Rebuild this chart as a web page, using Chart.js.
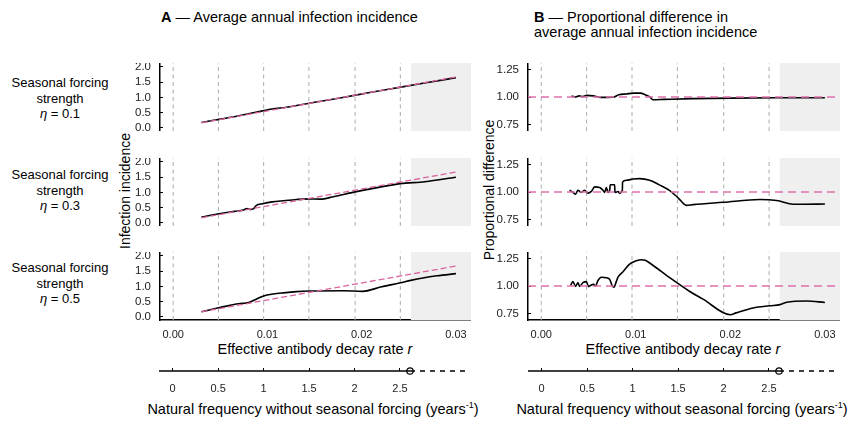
<!DOCTYPE html>
<html><head><meta charset="utf-8">
<script src="https://cdn.jsdelivr.net/npm/chart.js@4.4.1/dist/chart.umd.min.js"></script>
<style>
body{margin:0;width:850px;height:425px;background:#fff;position:relative;overflow:hidden;font-family:"Liberation Sans",Arial,Helvetica,sans-serif;color:#000}
.t{position:absolute;white-space:nowrap}
.rl{position:absolute;left:0;width:120px;text-align:center;font-size:13px;line-height:15.5px}
.yt{position:absolute;width:200px;height:20px;line-height:20px;text-align:center;font-size:14px;transform:rotate(-90deg)}
.xt{position:absolute;width:380px;text-align:center;font-size:14.5px;line-height:16px}
</style></head><body>
<div class="t" style="left:161px;top:9px;font-size:14.5px;line-height:16px"><b>A</b> &#8212; Average annual infection incidence</div>
<div class="t" style="left:534px;top:10px;font-size:14.5px;line-height:14.5px"><b>B</b> &#8212; Proportional difference in<br>average annual infection incidence</div>
<div class="rl" style="top:75px">Seasonal forcing<br>strength<br><i>&#951;</i> = 0.1</div>
<div class="rl" style="top:167px">Seasonal forcing<br>strength<br><i>&#951;</i> = 0.3</div>
<div class="rl" style="top:260px">Seasonal forcing<br>strength<br><i>&#951;</i> = 0.5</div>
<div class="yt" style="left:25px;top:181px">Infection incidence</div>
<div class="yt" style="left:389px;top:180px">Proportional difference</div>
<div class="xt" style="left:125px;top:341px">Effective antibody decay rate <i>r</i></div>
<div class="xt" style="left:493px;top:341px">Effective antibody decay rate <i>r</i></div>
<div class="xt" style="left:123px;top:397px">Natural frequency without seasonal forcing (years<sup style="font-size:9px">-1</sup>)</div>
<div class="xt" style="left:492px;top:397px">Natural frequency without seasonal forcing (years<sup style="font-size:9px">-1</sup>)</div>
<script>
// ---------- data ----------
const xTicks = [0, 0.01, 0.02, 0.03];
const yTicksA = [0, 0.5, 1, 1.5, 2];
const yTicksB = [0.75, 1, 1.25];
const freqTicks = [0, 0.5, 1, 1.5, 2, 2.5];
const gridR = [0, 0.0048, 0.0096, 0.0144, 0.0193, 0.0241];   // r at natural frequency 0,0.5,...,2.5
const shadeStartR = 0.0252;
const freqCircle = 2.61;
const refR = [0.003, 0.030];
const refA = [0.17, 1.67];
const refB = 1.0;

const a1R = [0.003,0.005,0.007,0.009,0.0105,0.012,0.015,0.018,0.021,0.024,0.027,0.030];
const a1Y = [0.18,0.29,0.40,0.53,0.62,0.68,0.84,1.00,1.17,1.33,1.49,1.65];

const a2R = [0.003,0.0048,0.0065,0.0074,0.0078,0.0082,0.0085,0.0088,0.0095,0.0105,0.0117,0.0131,0.0144,0.0156,0.017,0.0193,0.0215,0.0241,0.0267,0.030];
const a2Y = [0.19,0.30,0.38,0.42,0.47,0.44,0.46,0.57,0.63,0.69,0.73,0.77,0.79,0.78,0.86,1.02,1.15,1.29,1.35,1.50];

const a3R = [0.003,0.0048,0.006,0.0071,0.0076,0.008,0.0089,0.0096,0.0106,0.0117,0.0131,0.0144,0.018,0.0201,0.022,0.0241,0.0252,0.0265,0.028,0.030];
const a3Y = [0.17,0.30,0.38,0.44,0.45,0.47,0.60,0.69,0.75,0.79,0.83,0.85,0.86,0.84,0.98,1.12,1.20,1.28,1.35,1.42];

const b1R = [0.0032,0.0036,0.004,0.0044,0.0048,0.0055,0.0062,0.007,0.0076,0.0082,0.009,0.0098,0.0105,0.011,0.0115,0.0118,0.013,0.016,0.02,0.025,0.03];
const b1Y = [1.01,1.0,1.01,1.005,1.015,1.01,0.997,0.997,0.998,1.02,1.028,1.035,1.035,1.02,1.0,0.975,0.978,0.985,0.99,0.993,0.993];

const b2R = [0.0030,0.00335,0.00363,0.00388,0.00424,0.00459,0.00494,0.0053,0.00565,0.00618,0.00653,0.0067,0.00689,0.00706,0.00724,0.0073,0.00742,0.00776,0.0078,0.00787,0.00812,0.00829,0.00858,0.0086,0.009,0.0097,0.01041,0.01147,0.0125,0.01359,0.0145,0.01536,0.01606,0.01924,0.02313,0.0249,0.02665,0.02771,0.030];
const b2Y = [1.016,0.997,0.98,1.016,0.997,1.016,0.99,1.005,1.047,1.042,1.016,0.997,1.04,0.997,1.016,1.066,1.066,1.066,1.0,0.997,1.005,0.99,1.016,1.09,1.107,1.118,1.122,1.107,1.065,1.013,0.945,0.878,0.885,0.906,0.931,0.922,0.888,0.888,0.89];

const b3R = [0.0031,0.00335,0.00363,0.00388,0.00406,0.00441,0.00477,0.00501,0.0053,0.00554,0.00575,0.006,0.00636,0.00689,0.00724,0.00752,0.00769,0.00794,0.00812,0.00865,0.00935,0.01006,0.01059,0.011,0.01147,0.01359,0.01571,0.01712,0.0200,0.0206,0.02241,0.02418,0.02524,0.02595,0.02807,0.030];
const b3Y = [1.006,1.04,0.997,1.03,0.997,1.03,1.04,0.994,1.01,1.015,1.0,1.05,1.08,1.075,1.06,1.0,0.99,1.04,1.08,1.13,1.2,1.23,1.24,1.235,1.21,1.076,0.95,0.88,0.738,0.755,0.80,0.82,0.83,0.852,0.863,0.85];

// ---------- rendering ----------
const FF = '"Liberation Sans", Arial, Helvetica, sans-serif';
const XMIN = -0.0014, XMAX = 0.0316;
const FMIN = -0.15, FMAX = 3.27;
const YW = 44;
const zeroPad = s => { s.paddingLeft = 0; s.paddingRight = 0; s.paddingTop = 0; s.paddingBottom = 0; };
const pts = (xs, ys) => xs.map((x, i) => ({x, y: ys[i]}));

function mkCanvas(left, top, w, h) {
  const c = document.createElement('canvas');
  c.width = w; c.height = h;
  c.style.cssText = `position:absolute;left:${left}px;top:${top}px;width:${w}px;height:${h}px`;
  document.body.appendChild(c);
  return c;
}

function panel(plotL, plotT, plotW, plotH, showX, yMin, yMax, yTicks, yDec, series, refData, refStyle) {
  const XH = showX ? 24 : 0;
  const c = mkCanvas(plotL - YW, plotT, YW + plotW, plotH + XH);
  const datasets = [];
  datasets.push({data: [{x: shadeStartR, y: yMax}, {x: XMAX, y: yMax}], fill: 'start', backgroundColor: '#efefef', borderWidth: 0, pointRadius: 0, order: 30});
  gridR.forEach(r => datasets.push({data: [{x: r, y: yMin}, {x: r, y: yMax}], borderColor: '#ababab', borderWidth: 1, borderDash: [4, 3.5], pointRadius: 0, order: 20}));
  datasets.push({data: series, borderColor: '#000', borderWidth: 1.6, pointRadius: 0, cubicInterpolationMode: 'monotone', order: 5});
  datasets.push({data: refData, borderColor: refStyle.color, borderWidth: refStyle.width, borderDash: refStyle.dash, pointRadius: 0, order: 1});
  return new Chart(c, {
    type: 'line',
    data: {datasets},
    options: {
      responsive: false, animation: false, events: [],
      layout: {padding: 0, autoPadding: false},
      plugins: {legend: {display: false}, tooltip: {enabled: false}},
      scales: {
        x: {
          type: 'linear', min: XMIN, max: XMAX, display: showX,
          afterBuildTicks: s => { s.ticks = xTicks.map(v => ({value: v})); },
          grid: {display: false, drawTicks: false},
          border: {display: true, color: '#000', width: 1.5},
          ticks: {padding: 8, color: '#222', font: {size: 11, family: FF}, callback: v => Number(v).toFixed(2), maxRotation: 0, autoSkip: false},
          afterFit: s => { s.height = XH; zeroPad(s); }
        },
        y: {
          type: 'linear', min: yMin, max: yMax,
          afterBuildTicks: s => { s.ticks = yTicks.map(v => ({value: v})); },
          grid: {display: true, drawOnChartArea: false, drawTicks: true, tickLength: -3, color: '#000', lineWidth: 1},
          border: {display: true, color: '#000', width: 1.5},
          ticks: {padding: 12, color: '#222', font: {size: 11.5, family: FF}, callback: v => Number(v).toFixed(yDec), autoSkip: false},
          afterFit: s => { s.width = YW; zeroPad(s); }
        }
      }
    }
  });
}

function freqAxis(left, top, w) {
  const PT = 6, AH = 3, XH = 32;
  const c = mkCanvas(left, top - PT - AH, w, PT + AH + XH);
  return new Chart(c, {
    type: 'line',
    data: {datasets: [
      {data: [{x: FMIN, y: 0}, {x: freqCircle, y: 0}], borderColor: '#000', borderWidth: 1.5, pointRadius: 0, clip: false},
      {data: [{x: freqCircle, y: 0}, {x: FMAX, y: 0}], borderColor: '#000', borderWidth: 1.5, borderDash: [5, 5], pointRadius: 0, clip: false},
      {data: [{x: freqCircle, y: 0}], showLine: false, pointRadius: 3.2, pointBackgroundColor: '#fff', pointBorderColor: '#000', pointBorderWidth: 1.2, clip: false}
    ]},
    options: {
      responsive: false, animation: false, events: [],
      layout: {padding: {top: PT, left: 0, right: 0, bottom: 0}, autoPadding: false},
      plugins: {legend: {display: false}, tooltip: {enabled: false}},
      scales: {
        x: {
          type: 'linear', min: FMIN, max: FMAX,
          afterBuildTicks: s => { s.ticks = freqTicks.map(v => ({value: v})); },
          grid: {display: true, drawOnChartArea: true, drawTicks: false, color: '#000', lineWidth: 1},
          border: {display: false},
          ticks: {padding: 11, color: '#222', font: {size: 11, family: FF}, callback: v => String(v), maxRotation: 0, autoSkip: false},
          afterFit: s => { s.height = XH; zeroPad(s); }
        },
        y: {display: false, min: 0, max: 1}
      }
    }
  });
}

const rowsTop = [63, 158, 252];
const PH = 68;
const aL = 160, aW = 311, bL = 528, bW = 312;
const aStyle = {color: '#d8639d', width: 1.3, dash: [6, 3]};
const bStyle = {color: '#e070aa', width: 1.5, dash: [8, 5]};
const aRef = pts(refR, refA);
const bRef = [{x: XMIN, y: refB}, {x: XMAX, y: refB}];

const aSeries = [pts(a1R, a1Y), pts(a2R, a2Y), pts(a3R, a3Y)];
const bSeries = [pts(b1R, b1Y), pts(b2R, b2Y), pts(b3R, b3Y)];

rowsTop.forEach((t, i) => {
  const last = i === rowsTop.length - 1;
  panel(aL, t, aW, PH, last, -0.1, 2.13, yTicksA, 1, aSeries[i], aRef, aStyle);
  panel(bL, t, bW, PH, last, 0.69, 1.31, yTicksB, 2, bSeries[i], bRef, bStyle);
});
freqAxis(159, 371, 311);
freqAxis(528, 371, 311);
</script>
</body></html>
